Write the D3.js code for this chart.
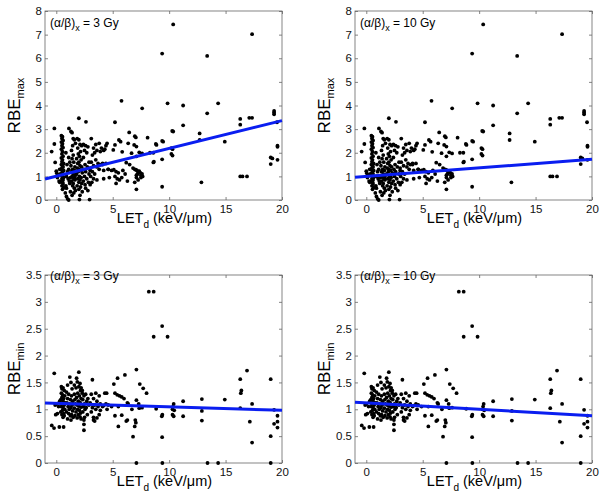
<!DOCTYPE html>
<html><head><meta charset="utf-8">
<script src="https://cdn.jsdelivr.net/npm/d3@7/dist/d3.min.js"></script>
<style>body{margin:0;background:#fff}svg{display:block}text{font-family:"Liberation Sans",Arial,Helvetica,sans-serif}</style>
</head><body><svg id="c" width="605" height="498"></svg>
<script>
// ---- data: [LET_d (keV/um), RBE] ----
const maxPoints = [
[10.36,7.43],[17.35,7.02],[9.38,6.2],[13.37,6.1],[5.78,4.2],[9.86,4.09],[14.34,4.09],[11.24,4.0],[7.61,3.88],[13.37,3.67],
[19.3,3.77],[19.3,3.7],[19.3,3.63],[17.1,3.48],[17.35,3.48],[16.3,3.43],[16.3,3.19],[19.56,3.29],[11.24,3.16],[5.2,3.29],
[2.0,3.46],[2.63,3.31],[10.27,2.92],[10.36,2.9],[6.46,2.86],[12.7,2.82],[6.96,2.7],[8.09,2.64],[12.7,2.54],[9.38,2.5],
[9.47,2.47],[14.93,2.47],[8.88,2.33],[19.6,2.3],[19.6,2.25],[10.2,2.2],[10.3,2.15],[10.2,1.95],[10.3,1.88],[8.3,2.0],
[8.6,2.0],[7.6,1.97],[7.1,1.85],[9.38,1.72],[8.6,1.59],[19.0,1.8],[19.15,1.76],[19.0,1.52],[19.6,1.7],[16.3,1.0],
[16.5,1.0],[16.9,1.0],[12.86,0.75],[9.38,0.56],[7.1,0.45],
[6.8,1.35],[6.95,1.3],[7.05,1.28],[7.15,1.25],[7.25,1.2],[7.35,1.22],[7.2,1.1],[7.1,1.05],[7.45,1.15],[7.5,1.05],
[7.6,1.1],[7.5,0.95],[7.1,0.95],[7.25,0.85],[7.65,1.0],[6.95,0.75],[6.9,2.33],[7.1,2.26],[7.05,2.65],[7.35,2.02],
[8.82,2.37],[8.65,1.62],
[4.5,2.4],[5.05,2.12],[5.2,2.33],[4.3,2.15],[4.2,2.1],[4.1,1.55],[5.55,2.54],[5.7,2.47],[5.84,2.04],[6.2,1.58],
[6.37,2.4],[6.67,1.98],[4.6,1.3],[5.1,1.28],[5.3,1.2],[5.5,1.15],[5.2,1.0],[5.4,0.9],[5.6,0.85],[5.3,0.7],
[5.8,0.95],[5.9,1.25],[6.1,1.1],[6.3,0.8],[6.5,1.5],[4.9,1.25],[4.7,0.95],
[-0.41,2.05],[-0.17,3.03],[-0.17,2.37],[-0.1,1.59],[0.0,1.22],[0.05,1.13],[0.2,1.05],[0.1,0.95],[0.25,0.8],[0.3,0.75],
[0.3,1.3],[0.35,1.1],
[0.45,2.72],[0.55,2.68],[0.5,2.6],[0.6,2.52],[0.45,2.45],[0.55,2.38],[0.5,2.3],[0.6,2.22],[0.45,2.15],[0.55,2.05],
[0.5,1.95],[0.6,1.85],[0.45,1.78],[0.55,1.7],[0.5,1.62],[0.65,1.55],[0.45,1.5],[0.55,1.45],[0.6,1.4],[0.5,1.35],
[0.45,1.3],[0.65,1.25],[0.55,1.2],[0.5,1.15],[0.6,1.1],[0.45,1.05],[0.55,1.0],[0.65,0.95],[0.5,0.9],[0.6,0.85],
[0.45,0.8],[0.55,0.75],[0.6,0.68],[0.5,0.6],[0.65,0.52],[0.55,0.45],
[0.8,0.3],[0.9,0.15],[1.0,0.05],[1.1,0.0],[0.9,0.5],[0.85,0.6],[0.9,1.0],[1.0,1.2],[0.95,1.5],[1.1,1.3],
[1.05,0.9],[1.15,0.8],[1.2,0.7],[1.2,1.6],[1.1,1.8],[1.12,3.03],[0.85,2.0],
[1.3,2.9],[1.4,2.85],[1.5,2.6],[1.6,2.55],[1.7,2.4],[1.45,2.3],[1.35,2.1],[1.5,1.9],[1.4,1.75],[1.55,1.6],
[1.3,1.45],[1.65,1.4],[1.45,1.3],[1.6,1.25],[1.35,1.2],[1.5,1.1],[1.7,1.05],[1.4,1.0],[1.25,0.95],[1.55,0.9],
[1.65,0.85],[1.35,0.8],[1.5,0.7],[1.45,0.6],[1.6,0.5],[1.7,0.4],[1.55,0.3],[1.4,0.2],[1.25,0.35],[1.6,0.95],
[1.85,2.6],[2.0,2.55],[2.1,2.35],[2.25,2.3],[1.9,2.2],[2.15,2.05],[1.95,1.95],[2.05,1.85],[1.8,1.75],[2.2,1.7],
[2.0,1.6],[1.9,1.55],[2.1,1.45],[2.25,1.4],[1.85,1.35],[2.0,1.3],[2.15,1.25],[1.95,1.2],[2.3,1.15],[1.8,1.1],
[2.05,1.0],[2.2,0.95],[1.9,0.9],[2.1,0.85],[2.0,0.75],[2.25,0.7],[1.85,0.6],[2.15,0.55],[2.0,0.45],[2.3,0.35],
[2.1,0.2],[2.05,0.02],
[2.4,2.35],[2.6,2.3],[2.8,2.25],[2.5,2.1],[2.7,2.0],[2.4,1.8],[2.9,1.6],[2.55,1.5],[2.75,1.4],[2.45,1.3],
[2.6,1.2],[2.9,1.1],[2.5,1.0],[2.7,0.9],[2.4,0.8],[2.85,0.75],[2.55,0.65],[2.6,0.5],[2.8,0.4],[2.95,0.02],
[3.1,2.6],[3.0,1.25],
[3.5,2.35],[3.3,2.2],[3.6,2.1],[3.9,2.05],[3.4,2.0],[3.2,1.9],[3.5,1.7],[3.1,1.6],[3.7,1.55],[3.9,1.5],
[4.1,1.5],[3.3,1.45],[3.6,1.4],[3.0,1.35],[3.8,1.3],[4.2,1.25],[3.2,1.2],[3.4,1.1],[3.05,1.0],[3.3,0.9],
[3.6,0.85],[3.15,0.75],[3.0,0.65],[4.4,2.3],[4.0,2.2],[3.8,2.4],[4.4,1.55],[4.6,1.3],[4.2,0.9]
];

const minPoints = [
[-0.18,1.67],[-0.4,0.7],[-0.2,0.65],[0.27,0.67],[0.65,0.67],[0.0,1.1],[-0.1,1.08],[0.1,0.92],[0.2,1.05],[0.3,1.15],[-0.05,0.9],
[0.45,1.42],[0.6,1.4],[0.5,1.38],[0.7,1.35],[0.45,1.3],[0.55,1.27],[0.75,1.25],[0.5,1.22],[0.65,1.2],[0.4,1.18],
[0.6,1.15],[0.8,1.12],[0.5,1.1],[0.7,1.08],[0.45,1.05],[0.6,1.03],[0.75,1.0],[0.55,0.98],[0.4,0.95],[0.65,0.92],
[0.5,0.9],[0.7,0.88],[0.6,0.85],
[1.2,1.6],[1.3,1.5],[1.0,1.45],[1.4,1.38],[0.9,1.32],[1.1,1.28],[1.35,1.25],[1.0,1.2],[1.25,1.18],[1.45,1.15],
[0.95,1.12],[1.2,1.1],[1.4,1.08],[1.05,1.05],[1.3,1.03],[1.15,1.0],[1.45,0.97],[0.9,0.95],[1.1,0.92],[1.35,0.9],
[1.25,0.88],[1.5,0.85],[1.0,0.82],[1.3,0.8],
[2.0,1.69],[1.8,1.58],[1.86,1.51],[2.1,1.48],[1.6,1.45],[2.0,1.42],[1.75,1.4],[2.15,1.35],[1.9,1.3],[1.6,1.28],
[2.05,1.25],[1.8,1.22],[2.2,1.2],[1.65,1.18],[1.95,1.15],[2.1,1.13],[1.7,1.1],[1.85,1.08],[2.0,1.06],[2.2,1.04],
[1.6,1.02],[1.9,1.0],[2.05,0.98],[1.75,0.95],[2.15,0.93],[1.95,0.9],[1.65,0.88],[2.1,0.86],[1.85,0.84],[2.2,0.82],
[2.3,1.3],[2.6,1.28],[2.45,1.25],[2.8,1.2],[2.35,1.18],[2.7,1.15],[2.5,1.1],[2.9,1.08],[2.4,1.05],[2.65,1.03],
[2.55,1.0],[2.35,0.95],[2.75,0.9],[2.5,0.85],[2.45,0.8],[2.45,0.72],[2.45,0.61],[2.3,1.35],[2.2,1.4],
[3.2,1.55],[3.5,1.3],[3.1,1.28],[3.8,1.25],[3.3,1.2],[3.6,1.15],[3.0,1.12],[3.9,1.1],[3.4,1.08],[4.1,1.05],
[3.7,1.05],[3.2,1.03],[3.5,1.0],[3.9,0.98],[3.1,0.95],[3.3,0.85],[3.6,0.84],[3.3,0.8],[3.4,0.78],[4.4,1.1],
[4.6,1.08],[4.2,1.07],[4.5,1.0],[4.3,1.3],[3.8,0.9],
[4.46,1.3],[5.1,1.47],[5.43,1.58],[6.08,1.64],[7.1,1.74],[7.4,1.47],[7.7,1.39],[5.2,1.3],[5.4,1.27],[5.6,1.25],
[5.8,1.23],[6.37,1.1],[6.3,1.12],[7.1,1.17],[7.3,1.1],[7.35,1.02],[5.8,0.89],[6.3,0.8],[6.2,0.78],[5.5,0.68],
[7.0,0.8],[7.05,0.75],[6.95,0.68],[6.8,0.49],[7.1,0.0],[8.0,1.3],[5.2,0.88],[5.5,1.05],[6.0,1.2],[7.6,1.03],
[8.85,1.01],[4.9,1.05],[6.7,1.0],
[8.2,3.19],[8.63,3.19],[9.38,2.55],[8.63,2.35],[9.86,2.35],[16.9,1.72],[16.3,1.56],[19.0,1.56],[16.4,1.35],[16.35,1.3],
[12.9,1.19],[14.93,1.18],[11.24,1.15],[10.4,1.1],[17.35,1.1],[16.3,1.02],[10.3,1.0],[10.45,0.98],[12.9,0.97],[19.3,0.99],
[9.4,0.9],[9.35,0.87],[10.4,0.87],[11.24,0.87],[19.6,0.88],[12.9,0.79],[17.15,0.77],[19.6,0.77],[19.3,0.73],[19.6,0.66],
[9.38,0.48],[19.0,0.5],[17.35,0.38],[9.4,0],[13.4,0],[14.34,0],[19.0,0],[10.35,1.05],[10.3,0.9]
];

const xTicks = [0, 5, 10, 15, 20];
const yTicksMax = [0, 1, 2, 3, 4, 5, 6, 7, 8];
const yTicksMin = [0, 0.5, 1, 1.5, 2, 2.5, 3, 3.5];
const alphaBetaLabels = ["3 Gy", "10 Gy", "3 Gy", "10 Gy"];
// linear fits (RBE = intercept + slope * LET)
const fitIntercepts = [1.008, 0.996, 1.109, 1.118];
const fitSlopes = [0.1176, 0.0362, -0.0064, -0.0119];

const panels = [
  {x0: 45, x1: 282, y0: 11, y1: 200, pts: maxPoints, yMax: 8, ticks: yTicksMax, sub: "max"},
  {x0: 355, x1: 592, y0: 11, y1: 200, pts: maxPoints, yMax: 8, ticks: yTicksMax, sub: "max"},
  {x0: 45, x1: 282, y0: 275, y1: 463, pts: minPoints, yMax: 3.5, ticks: yTicksMin, sub: "min"},
  {x0: 355, x1: 592, y0: 275, y1: 463, pts: minPoints, yMax: 3.5, ticks: yTicksMin, sub: "min"}
];

const svg = d3.select("#c");
const axisCol = "#666";

panels.forEach((p, i) => {
  const x = d3.scaleLinear().domain([-1, 20]).range([p.x0, p.x1]);
  const y = d3.scaleLinear().domain([0, p.yMax]).range([p.y1, p.y0]);
  const g = svg.append("g");

  const styleAxis = sel => {
    sel.select(".domain").remove();
    sel.selectAll(".tick line").attr("stroke", axisCol).attr("stroke-width", 0.8);
    sel.selectAll("text").attr("fill", "#111").style("font-size", "11.5px");
  };
  g.append("g").attr("transform", `translate(0,${p.y1})`)
    .call(d3.axisBottom(x).tickValues(xTicks).tickSize(-3).tickPadding(5).tickFormat(d3.format("d"))).call(styleAxis);
  g.append("g").attr("transform", `translate(0,${p.y0})`)
    .call(d3.axisTop(x).tickValues(xTicks).tickSize(-3).tickFormat("")).call(styleAxis);
  g.append("g").attr("transform", `translate(${p.x0},0)`)
    .call(d3.axisLeft(y).tickValues(p.ticks).tickSize(-3).tickPadding(3).tickFormat(d3.format("~g"))).call(styleAxis);
  g.append("g").attr("transform", `translate(${p.x1},0)`)
    .call(d3.axisRight(y).tickValues(p.ticks).tickSize(-3).tickFormat("")).call(styleAxis);
  g.append("rect").attr("x", p.x0).attr("y", p.y0).attr("width", p.x1 - p.x0).attr("height", p.y1 - p.y0)
    .attr("fill", "none").attr("stroke", axisCol).attr("stroke-width", 0.8);

  g.append("g").selectAll("circle").data(p.pts).join("circle")
    .attr("cx", d => x(d[0])).attr("cy", d => y(d[1])).attr("r", 1.9).attr("fill", "#000");

  const line = d3.line().x(d => x(d)).y(d => y(fitIntercepts[i] + fitSlopes[i] * d));
  g.append("path").datum([-1, 20]).attr("d", line).attr("fill", "none")
    .attr("stroke", "#0a1ef0").attr("stroke-width", 3);

  const ay = i < 2 ? p.y0 + 16 : p.y0 + 5;
  const t = g.append("text").attr("x", p.x0 + 5).attr("y", ay).style("font-size", "12px").attr("fill", "#000");
  t.append("tspan").text("(α/β)");
  t.append("tspan").attr("dy", 4).style("font-size", "9px").text("x");
  t.append("tspan").attr("dy", -4).text(" = " + alphaBetaLabels[i]);

  const cy = (p.y0 + p.y1) / 2;
  const yl = g.append("text").attr("transform", `translate(${p.x0 - 25},${cy}) rotate(-90)`)
    .attr("text-anchor", "middle").style("font-size", "17px").attr("fill", "#000");
  yl.append("tspan").text("RBE");
  yl.append("tspan").attr("dy", 4).style("font-size", "11px").text(p.sub);

  const xl = g.append("text").attr("x", (p.x0 + p.x1) / 2 + 1).attr("y", p.y1 + 23)
    .attr("text-anchor", "middle").style("font-size", "14.5px").attr("fill", "#000");
  xl.append("tspan").text("LET");
  xl.append("tspan").attr("dy", 5).style("font-size", "10px").text("d");
  xl.append("tspan").attr("dy", -5).text(" (keV/μm)");
});
</script></body></html>
